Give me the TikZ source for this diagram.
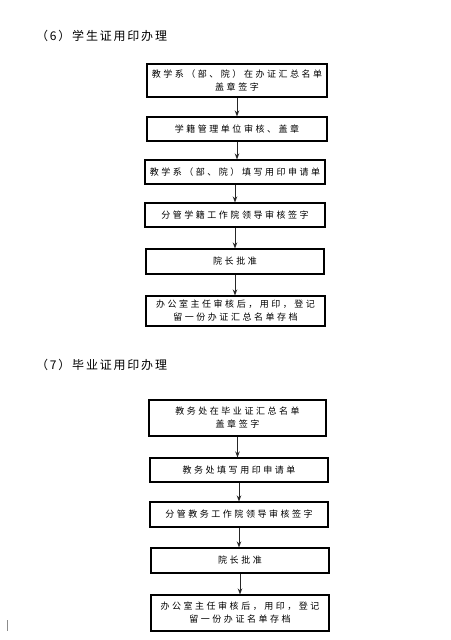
\documentclass[tikz,border=0pt]{standalone}
\usepackage{fontspec}
\newfontfamily\cjk[LetterSpace=28]{Noto Sans CJK SC}
\newfontfamily\cjkt[LetterSpace=15]{Noto Sans CJK SC}
\usetikzlibrary{arrows.meta}
\begin{document}
\begin{tikzpicture}[x=1pt,y=-1pt,
  stepbox/.style={draw=black,line width=1.1pt,rectangle,inner sep=0pt,align=center,
    font=\cjk\fontsize{9}{13}\selectfont},
  flow/.style={draw=black!85,line width=0.9pt,-{Stealth[length=6pt,width=4.5pt]}},
  ttl/.style={anchor=west,inner sep=0pt,font=\cjkt\fontsize{12}{14}\selectfont}]
\useasboundingbox (0,0) rectangle (450,640);
\fill[white] (0,0) rectangle (450,640);
% section 6
\node[ttl] (t6) at (36,36) {（6）学生证用印办理};
\node[stepbox,minimum width=180pt,minimum height=33pt] (a1) at (237,80.5) {教学系（部、院）在办证汇总名单\\盖章签字};
\node[stepbox,minimum width=180pt,minimum height=24pt] (a2) at (237,129) {学籍管理单位审核、盖章};
\node[stepbox,minimum width=180pt,minimum height=24pt] (a3) at (235,172) {教学系（部、院）填写用印申请单};
\node[stepbox,minimum width=180pt,minimum height=24pt] (a4) at (235,215) {分管学籍工作院领导审核签字};
\node[stepbox,minimum width=178pt,minimum height=25pt] (a5) at (235,261.5) {院长批准};
\node[stepbox,minimum width=179pt,minimum height=30pt] (a6) at (235.5,311) {办公室主任审核后，用印，登记\\留一份办证汇总名单存档};
\draw[flow] (a1.south) -- (a1.south |- a2.north);
\draw[flow] (a2.south) -- (a2.south |- a3.north);
\draw[flow] (a3.south) -- (a3.south |- a4.north);
\draw[flow] (a4.south) -- (a4.south |- a5.north);
\draw[flow] (a5.south) -- (a5.south |- a6.north);
% section 7
\node[ttl] (t7) at (36,365) {（7）毕业证用印办理};
\node[stepbox,minimum width=177pt,minimum height=36pt] (b1) at (237.5,418) {教务处在毕业证汇总名单\\盖章签字};
\node[stepbox,minimum width=178pt,minimum height=24pt] (b2) at (239,470) {教务处填写用印申请单};
\node[stepbox,minimum width=178pt,minimum height=25pt] (b3) at (239,514.5) {分管教务工作院领导审核签字};
\node[stepbox,minimum width=178pt,minimum height=25pt] (b4) at (240,560.5) {院长批准};
\node[stepbox,minimum width=178pt,minimum height=36pt] (b5) at (240,613) {办公室主任审核后，用印，登记\\留一份办证名单存档};
\draw[flow] (b1.south) -- (b1.south |- b2.north);
\draw[flow] (b2.south) -- (b2.south |- b3.north);
\draw[flow] (b3.south) -- (b3.south |- b4.north);
\draw[flow] (b4.south) -- (b4.south |- b5.north);
% small mark
\draw[black!45,line width=0.8pt] (7.5,620) -- (7.5,631);
\end{tikzpicture}
\end{document}
